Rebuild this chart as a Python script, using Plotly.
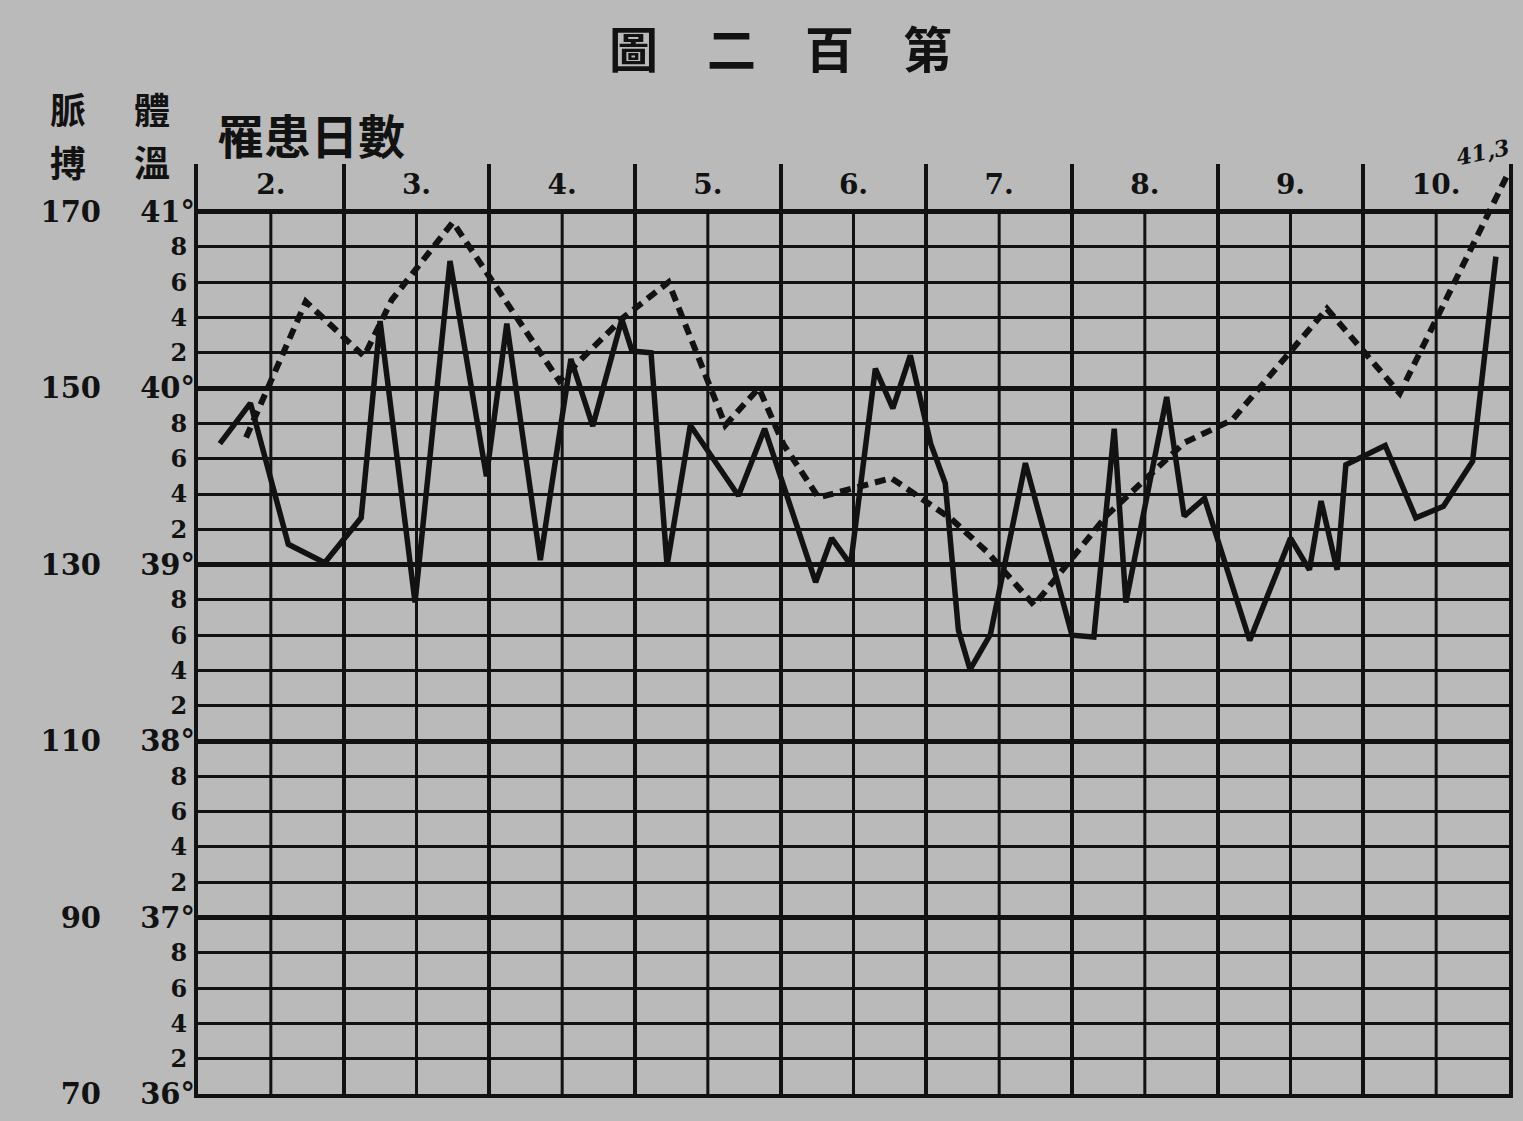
import plotly.graph_objects as go

# ---------------- data ----------------
days = [2, 3, 4, 5, 6, 7, 8, 9, 10]
day_labels = ["2.", "3.", "4.", "5.", "6.", "7.", "8.", "9.", "10."]

temp_major_vals = [36, 37, 38, 39, 40, 41]
temp_major_labels = ["36°", "37°", "38°", "39°", "40°", "41°"]
temp_minor_labels = ["2", "4", "6", "8"]

pulse_vals = [70, 90, 110, 130, 150, 170]
pulse_labels = ["70", "90", "110", "130", "150", "170"]

# pulse (solid line): time in days, beats per minute
pulse_t = [2.15, 2.36, 2.62, 2.87, 3.12, 3.25, 3.49, 3.73, 3.98, 4.12,
           4.35, 4.56, 4.71, 4.91, 4.98, 5.11, 5.22, 5.38, 5.71, 5.89,
           6.24, 6.35, 6.48, 6.65, 6.77, 6.89, 7.03, 7.13, 7.22, 7.30,
           7.44, 7.68, 8.00, 8.15, 8.29, 8.37, 8.65, 8.77, 8.91, 9.22,
           9.50, 9.63, 9.71, 9.82, 9.88, 10.15, 10.36, 10.55, 10.75, 10.91]
pulse_v = [143.7, 148.3, 132.3, 130.2, 135.3, 157.6, 125.7, 164.4, 140.0, 157.3,
           130.5, 153.3, 145.7, 157.8, 154.2, 154.0, 129.9, 145.8, 137.8, 145.4,
           128.0, 133.0, 130.0, 152.2, 147.7, 153.7, 143.7, 139.2, 122.6, 118.1,
           122.1, 141.5, 122.0, 121.8, 145.4, 125.7, 149.0, 135.5, 137.5, 121.4,
           133.0, 129.4, 137.2, 129.4, 141.3, 143.5, 135.3, 136.6, 141.7, 164.9]

# temperature (dashed line): time in days, degrees C
temp_t = [2.33, 2.74, 3.14, 3.33, 3.75, 4.48, 4.92, 5.23, 5.62, 5.85, 6.02,
          6.26, 6.76, 7.17, 7.42, 7.74, 8.24, 8.77, 9.10, 9.75, 10.25, 10.99]
temp_v = [39.72, 40.49, 40.18, 40.50, 40.94, 40.04, 40.40, 40.60, 39.79, 40.00, 39.68,
          39.38, 39.49, 39.26, 39.07, 38.77, 39.28, 39.69, 39.82, 40.45, 39.97, 41.21]

# ---------------- style ----------------
INK = "#121212"
PAPER = "#bababa"
SERIF = "DejaVu Serif"
CJK = "Noto Sans CJK TC"

W, H = 1523, 1121
L, R, T, B = 198, 10, 164, 26
PW, PH = W - L - R, H - T - B

T_MIN, T_MAX = 36.0, 41.27
X_MIN, X_MAX = days[0], days[-1] + 1


def t_to_p(t):
    return 90 + (t - 37) * 20


minor_vals = [round(36 + 0.2 * i, 1) for i in range(26) if i % 5 != 0]
minor_text = [temp_minor_labels[(i % 5) - 1] for i in range(26) if i % 5 != 0]

fig = go.Figure()

# half-day vertical lines (stop at 41 degrees)
for d in days:
    fig.add_shape(type="line", xref="x", yref="y", x0=d + 0.5, x1=d + 0.5,
                  y0=T_MIN, y1=temp_major_vals[-1],
                  line=dict(color=INK, width=3), layer="below")

# day labels
fig.add_trace(go.Scatter(
    x=[d + 0.5 for d in days], y=[41.14] * len(days), mode="text",
    text=day_labels, textfont=dict(family=SERIF, size=28, color=INK, weight="bold"),
    hoverinfo="skip", showlegend=False, cliponaxis=False))

# invisible anchor trace so the whole-degree axis is drawn
fig.add_trace(go.Scatter(
    x=[X_MIN], y=[T_MIN], yaxis="y3", mode="markers",
    marker=dict(size=1, opacity=0), hoverinfo="skip", showlegend=False))

# temperature (dashed)
fig.add_trace(go.Scatter(
    x=temp_t, y=temp_v, mode="lines",
    line=dict(color=INK, width=6, dash="11px,7px"),
    hoverinfo="skip", showlegend=False))

# pulse (solid)
fig.add_trace(go.Scatter(
    x=pulse_t, y=pulse_v, mode="lines", yaxis="y2",
    line=dict(color=INK, width=5.5),
    hoverinfo="skip", showlegend=False))

fig.update_layout(
    width=W, height=H, autosize=False,
    margin=dict(l=L, r=R, t=T, b=B, pad=0),
    paper_bgcolor=PAPER, plot_bgcolor=PAPER,
    showlegend=False,
    xaxis=dict(range=[X_MIN, X_MAX], tickvals=list(range(X_MIN, X_MAX + 1)),
               showticklabels=False, ticks="", showgrid=True, gridcolor=INK,
               gridwidth=4, zeroline=False, showline=True, linecolor=INK,
               linewidth=4, mirror=False, fixedrange=True),
    yaxis=dict(range=[T_MIN, T_MAX], tickvals=minor_vals, ticktext=minor_text,
               tickfont=dict(family=SERIF, size=24, color=INK, weight="bold"),
               ticks="", showgrid=True, gridcolor=INK, gridwidth=3.2,
               zeroline=False, showline=True, linecolor=INK, linewidth=4,
               mirror=True, ticklabelstandoff=2, fixedrange=True),
    yaxis3=dict(range=[T_MIN, T_MAX], overlaying="y", side="left", anchor="x",
                tickvals=temp_major_vals, ticktext=temp_major_labels,
                tickfont=dict(family=SERIF, size=29, color=INK, weight="bold"),
                ticks="", showgrid=True, gridcolor=INK, gridwidth=4.5,
                zeroline=False, showline=False, ticklabelstandoff=2,
                fixedrange=True),
    yaxis2=dict(range=[t_to_p(T_MIN), t_to_p(T_MAX)], overlaying="y",
                side="left", anchor="x",
                tickvals=pulse_vals, ticktext=pulse_labels,
                tickfont=dict(family=SERIF, size=29, color=INK, weight="bold"),
                ticks="", showgrid=False, zeroline=False, showline=False,
                ticklabelstandoff=96, fixedrange=True),
)


def ann(px, py, text, size, family=CJK, **kw):
    fig.add_annotation(
        x=(px - L) / PW, y=(H - B - py) / PH, xref="paper", yref="paper",
        text=text, showarrow=False, xanchor="center", yanchor="middle",
        font=dict(family=family, size=size, color=INK, weight="bold"), **kw)


# title
ann(782, 46, "圖　二　百　第", 49)
# headers
ann(68, 108, "脈", 36)
ann(68, 161, "搏", 36)
ann(152, 108, "體", 36)
ann(152, 161, "溫", 36)
ann(311, 133, "罹患日數", 47)
# final temperature note
ann(1487, 152, "<i>41,3</i>", 22, family=SERIF, textangle=-12)

fig.write_html("out.html",
               config={"displayModeBar": False},
               post_script="document.body.style.margin='0';document.body.style.overflow='hidden';")
